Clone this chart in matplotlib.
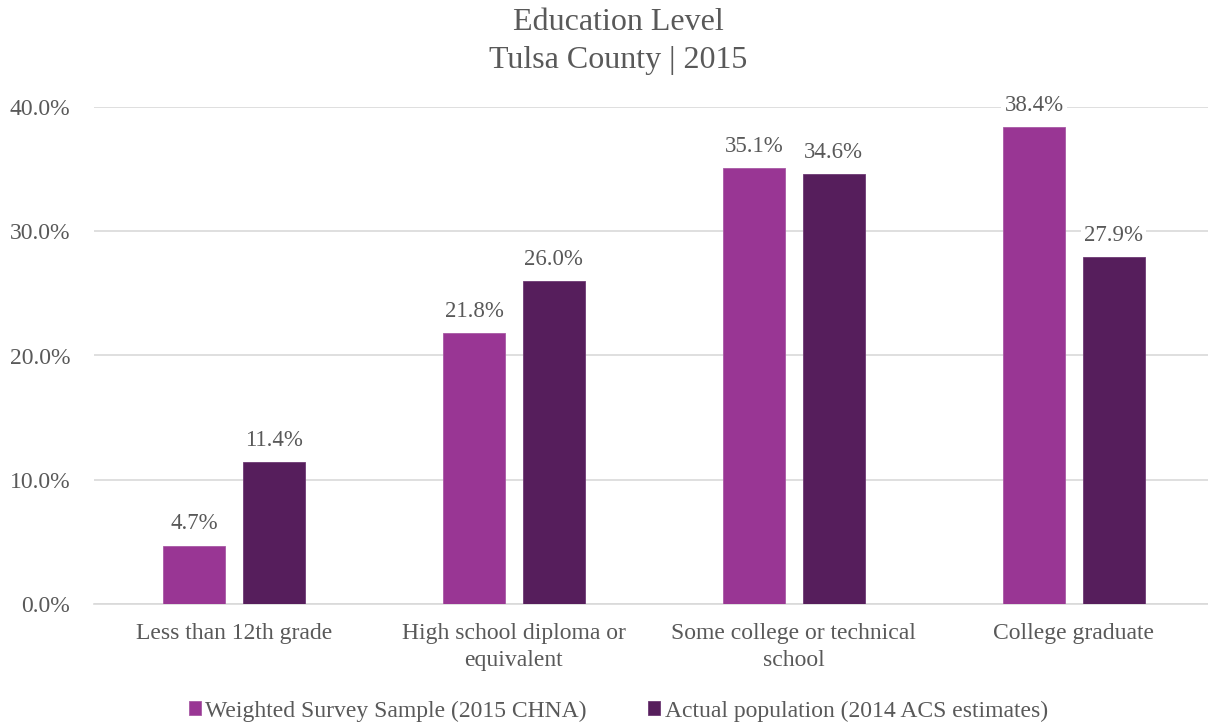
import matplotlib
matplotlib.use("Agg")
import matplotlib.pyplot as plt
import numpy as np
from matplotlib.ticker import FuncFormatter

categories = ["Less than 12th grade", "High school diploma or\nequivalent",
              "Some college or technical\nschool", "College graduate"]
survey = [4.7, 21.8, 35.1, 38.4]
actual = [11.4, 26.0, 34.6, 27.9]
series_names = ["Weighted Survey Sample (2015 CHNA)", "Actual population (2014 ACS estimates)"]
yticks = [0, 10, 20, 30, 40]

plt.rcParams["font.family"] = ["Liberation Serif", "DejaVu Serif"]
text_color = "#595959"
c_light = "#993694"
c_dark = "#561E5C"

W, H = 1208, 728
fig = plt.figure(figsize=(W / 100, H / 100), dpi=100)
ax_left, ax_right, ax_top, ax_bottom = 93.75, 1213.75, 107, 604
ax = fig.add_axes([ax_left / W, 1 - ax_bottom / H, (ax_right - ax_left) / W, (ax_bottom - ax_top) / H])

x = np.arange(len(categories))
w = 0.2214
off = 0.142
b1 = ax.bar(x - off, survey, w, color=c_light, edgecolor="#a85aa4", linewidth=0.6, zorder=3,
            label=series_names[0])
b2 = ax.bar(x + off, actual, w, color=c_dark, edgecolor="#6e3a74", linewidth=0.6, zorder=3,
            label=series_names[1])

for bars, vals in ((b1, survey), (b2, actual)):
    for r, v in zip(bars, vals):
        ax.annotate(f"{v:.1f}%", (r.get_x() + r.get_width() / 2, v), xytext=(0, 8),
                    textcoords="offset points", ha="center", va="bottom",
                    fontsize=16.5, color=text_color, zorder=4,
                    bbox=dict(boxstyle="square,pad=0.15", fc="white", ec="none"))

ax.set_xlim(-0.5, len(categories) - 0.5)
ax.set_ylim(0, 40)
ax.set_yticks(yticks)
ax.yaxis.set_major_formatter(FuncFormatter(lambda v, p: f"{v:.1f}%"))
ax.set_xticks(x)
ax.set_xticklabels(categories, linespacing=1.35)
ax.tick_params(axis="both", length=0, labelsize=17, colors=text_color)
ax.tick_params(axis="x", pad=14)
ax.tick_params(axis="y", pad=17)
ax.grid(axis="y", color="#d9d9d9", linewidth=1.2, zorder=0)
for s in ["top", "right", "left"]:
    ax.spines[s].set_visible(False)
ax.spines["bottom"].set_color("#d9d9d9")
ax.spines["bottom"].set_linewidth(1.2)
ax.spines["bottom"].set_zorder(1)

fig.text(0.512, 1 - 8 / H, "Education Level\nTulsa County | 2015", ha="center", va="top",
         fontsize=23, color=text_color, linespacing=1.4)

fig.legend(loc="center", bbox_to_anchor=(0.512, 1 - 711 / H), ncol=2, frameon=False,
           fontsize=17, handlelength=0.5, handleheight=0.5, handletextpad=0.2,
           columnspacing=2.6, labelcolor=text_color, borderaxespad=0)

fig.savefig("out.png", dpi=100, facecolor="white")
